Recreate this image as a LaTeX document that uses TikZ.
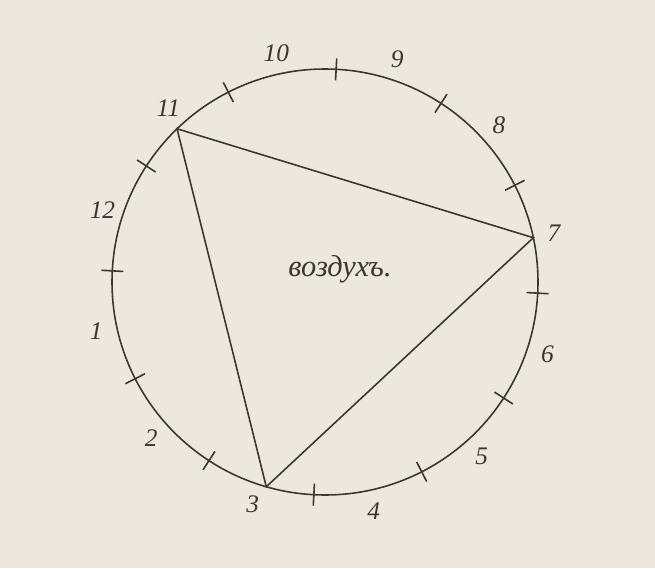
\documentclass[tikz,border=0pt]{standalone}
\usepackage{fontspec}
\setmainfont{Liberation Serif}
\usetikzlibrary{calc}
\definecolor{papier}{RGB}{236,232,222}
\definecolor{olowek}{RGB}{58,54,50}

\begin{document}
\begin{tikzpicture}[liczba/.style={font=\itshape\Large, text=olowek}]
	% Tło
	\fill[papier] (0,0) rectangle (13.1,11.36);
	
	% Środek i okrąg
	\coordinate (S) at (6.5,5.72);
	\draw[olowek, line width=0.9pt] (S) circle (4.26);
	
	% Kreski podziału
	\foreach \k in {0,...,11}
		\draw[olowek, line width=0.9pt] ($(S)+(27+30*\k:4.04)$) -- ($(S)+(27+30*\k:4.48)$);
	
	% Liczby
	\foreach \n in {1,...,12}
		\node[liczba] (L\n) at ($(S)+(30*\n-198:4.68)$) {\n};
	
	% Wierzchołki trójkąta
	\coordinate (W11) at ($(S)+(134:4.26)$);
	\coordinate (W7) at ($(S)+(12:4.26)$);
	\coordinate (W3) at ($(S)+(-106:4.26)$);
	
	% Trójkąt
	\draw[olowek, line width=0.9pt] (W11) -- (W7) -- (W3) -- cycle;
	
	% Napis
	\node[font=\itshape\LARGE, text=olowek] (napis) at (6.8,5.98) {воздухъ.};
\end{tikzpicture}
\end{document}
